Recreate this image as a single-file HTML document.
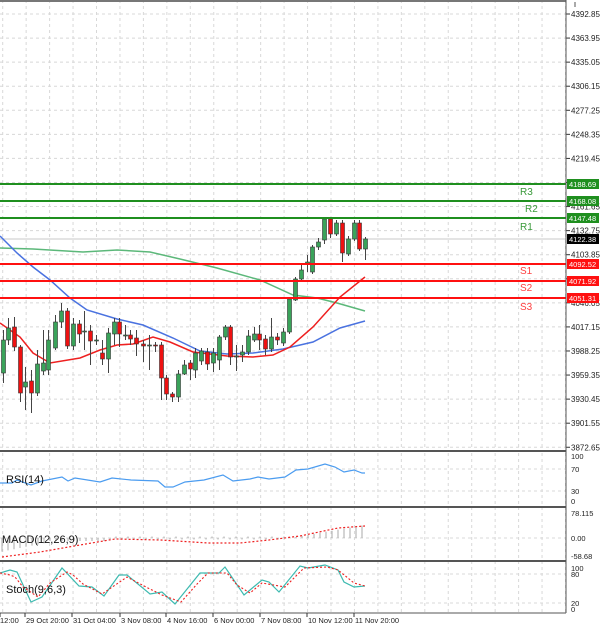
<!DOCTYPE html>
<html><head><meta charset="utf-8"><style>
html,body{margin:0;padding:0;background:#fff;}
svg{display:block;font-family:"Liberation Sans",sans-serif;}
</style></head><body>
<svg id="c" width="600" height="629" viewBox="0 0 600 629" xmlns="http://www.w3.org/2000/svg"></svg>
<script>
const s=document.getElementById('c');let h='';
const W=566;
const gs='stroke="#d8d8d8" stroke-width="1" stroke-dasharray="3,3"';
for(let x=2.7;x<W;x+=23.45){h+=`<line x1="${x}" y1="0" x2="${x}" y2="451" ${gs}/><line x1="${x}" y1="453" x2="${x}" y2="613" ${gs}/>`;}
h+=`<line x1="0" y1="1" x2="${W}" y2="1" stroke="#777" stroke-width="2"/>`;
const labs=["4392.85","4363.95","4335.05","4306.15","4277.25","4248.35","4219.45","4190.55","4161.65","4132.75","4103.85","4074.95","4046.05","4017.15","3988.25","3959.35","3930.45","3901.55","3872.65"];
labs.forEach((l,i)=>{const y=14+i*24.07;h+=`<line x1="0" y1="${y}" x2="${W}" y2="${y}" ${gs}/><line x1="${W}" y1="${y}" x2="${W+4}" y2="${y}" stroke="#333"/>`;if(i!=7&&i!=11)h+=`<text x="${W+5}" y="${y+3}" font-size="8" fill="#222">${l}</text>`;});
[[469],[491],[538],[574],[603]].forEach(a=>{h+=`<line x1="0" y1="${a[0]}" x2="${W}" y2="${a[0]}" ${gs}/>`;});
h+=`<line x1="0" y1="239" x2="${W}" y2="239" stroke="#e4e4e4" stroke-width="2"/>`;
const pl=(pts,c,w,d)=>`<polyline fill="none" stroke="${c}" stroke-width="${w}" ${d||''} points="${pts.map(p=>p.join(',')).join(' ')}"/>`;
h+=pl([[0,248],[33,249],[83,252],[117,250],[150,252],[180,259],[217,268],[260,280],[293,295],[317,298],[337,303],[365,311]],'#5cb87a',1.5);
h+=pl([[0,236],[17,253],[33,267],[50,280],[70,298],[87,310],[117,319],[143,325],[173,338],[200,351],[227,354],[253,353],[283,349],[313,342],[340,328],[365,321]],'#4a72e0',1.5);
h+=pl([[0,323],[20,337],[33,353],[50,363],[80,358],[100,350],[117,345],[133,344],[153,337],[170,342],[193,352],[227,356],[253,357],[273,355],[290,347],[313,327],[340,297],[365,277]],'#ee2020',1.5);
const C=[[3,340,373,330,383,'g'],[8,328,340,318,345,'g'],[14,327,347,317,351,'r'],[20,347,393,345,402,'r'],[25,382,387,367,410,'g'],[31,381,393,370,413,'r'],[37,364,393,350,396,'g'],[43,363,371,330,375,'g'],[48,340,370,330,375,'g'],[55,322,348,315,350,'g'],[61,311,322,303,328,'g'],[67,311,346,308,349,'r'],[73,324,346,318,350,'g'],[79,324,334,320,343,'r'],[84,331,332,311,350,'g'],[90,331,341,325,365,'r'],[96,340,341,335,345,'g'],[102,353,359,340,365,'r'],[108,333,359,328,373,'g'],[114,322,334,318,345,'g'],[119,322,334,318,347,'r'],[125,335,336,325,340,'g'],[130,335,339,330,345,'r'],[136,338,344,330,356,'r'],[143,344,346,340,362,'r'],[149,345,346,335,370,'g'],[155,345,346,342,352,'r'],[161,345,378,342,400,'r'],[166,378,394,375,400,'r'],[172,394,397,392,402,'r'],[178,374,397,370,402,'g'],[184,365,374,360,375,'g'],[190,363,369,360,380,'r'],[195,353,370,348,378,'g'],[201,351,361,348,365,'g'],[207,352,364,348,370,'r'],[213,353,363,348,372,'g'],[219,337,360,335,370,'g'],[225,327,337,325,340,'g'],[230,327,357,325,365,'r'],[236,356,357,345,371,'g'],[242,352,355,345,362,'g'],[248,336,352,330,355,'g'],[254,334,340,327,342,'g'],[259,334,340,325,350,'r'],[265,339,349,335,355,'r'],[271,337,349,318,352,'g'],[277,337,340,333,345,'r'],[283,332,343,328,346,'g'],[289,299,332,297,334,'g'],[295,279,300,277,301,'g'],[301,270,279,265,281,'g'],[307,262,264,255,272,'g'],[312,247,272,245,274,'g'],[318,242,247,238,250,'g'],[324,219,240,218,244,'g'],[330,219,234,218,238,'r'],[336,223,234,220,236,'g'],[342,223,253,220,262,'r'],[348,239,254,236,256,'g'],[354,223,239,220,241,'g'],[359,223,249,220,251,'r'],[365,239,249,237,260,'g']];
C.forEach(c=>{const f=c[5]=='g'?'#3aa35a':'#ee1111';h+=`<line x1="${c[0]+.5}" y1="${c[3]}" x2="${c[0]+.5}" y2="${c[4]}" stroke="#444"/><rect x="${c[0]-1.5}" y="${c[1]}" width="4" height="${Math.max(1,c[2]-c[1])}" fill="${f}" stroke="#333" stroke-width=".6"/>`;});
[[184,'#1f8f1f','4188.69','R3',520,195],[201,'#1f8f1f','4168.08','R2',525,212],[218,'#1f8f1f','4147.48','R1',520,230],[264,'#ff1010','4092.52','S1',520,274],[281,'#ff1010','4071.92','S2',520,291],[298,'#ff1010','4051.31','S3',520,310]].forEach(l=>{
h+=`<line x1="0" y1="${l[0]}" x2="${W}" y2="${l[0]}" stroke="${l[1]}" stroke-width="2"/><rect x="${W+1}" y="${l[0]-5}" width="32" height="10" fill="${l[1]}"/><text x="${W+3}" y="${l[0]+3}" font-size="7.5" fill="#fff">${l[2]}</text><text x="${l[4]}" y="${l[5]}" font-size="10" fill="${l[1]=='#ff1010'?'#ff4040':'#3a9a3a'}">${l[3]}</text>`;});
h+=`<rect x="${W+1}" y="234" width="32" height="10" fill="#000"/><text x="${W+3}" y="242" font-size="7.5" fill="#fff">4122.38</text>`;
[451,507,561].forEach(y=>{h+=`<line x1="0" y1="${y}" x2="${W}" y2="${y}" stroke="#555" stroke-width="2"/>`;});
h+=`<line x1="0" y1="613" x2="${W}" y2="613" stroke="#555"/>`;
h+=`<line x1="${W}" y1="0" x2="${W}" y2="613" stroke="#555"/>`;
h+=pl([[0,483],[12,483],[17,480],[31,485],[42,481],[62,477],[68,481],[75,478],[100,482],[112,478],[131,480],[158,481],[165,487],[173,487],[185,482],[204,480],[223,475],[233,481],[250,479],[258,477],[269,479],[285,477],[296,470],[308,469],[325,464],[335,467],[344,472],[354,470],[362,473],[365,473]],'#4b9cf0',1.2);
h+=`<text x="6" y="483" font-size="11" fill="#111">RSI(14)</text>`;
[['100',459],['70',472],['30',494],['0',504]].forEach(t=>{h+=`<text x="${W+5}" y="${t[1]}" font-size="7.5" fill="#222">${t[0]}</text>`;});
for(let x=2;x<=365;x+=6){let v;if(x<45)v=-14+x*0.2;else if(x<110)v=-3;else if(x<290)v=(x%12<6?-1.5:1.5);else v=(x-290)/75*13;h+=`<line x1="${x}" y1="538" x2="${x}" y2="${538-v}" stroke="#aaa"/>`;}
h+=pl([[2,557],[40,552],[80,545],[115,539],[160,540],[208,543],[240,543],[269,540],[300,536],[338,528],[365,526]],'#ee2020',1.2,'stroke-dasharray="2,2"');
h+=`<text x="2" y="543" font-size="11" fill="#111">MACD(12,26,9)</text>`;
[['78.115',516],['0.00',541],['-58.68',559]].forEach(t=>{h+=`<text x="${W+5}" y="${t[1]}" font-size="7.5" fill="#222">${t[0]}</text>`;});
h+=pl([[0,573],[10,570],[17,572],[31,602],[42,597],[62,568],[79,586],[92,587],[104,596],[119,575],[127,575],[150,594],[162,592],[175,604],[200,573],[219,573],[225,567],[244,595],[262,580],[269,582],[279,592],[300,566],[308,568],[325,565],[338,570],[344,582],[354,587],[365,586]],'#3dbab0',1.2);
h+=pl([[0,573],[10,575],[15,577],[23,587],[38,597],[50,583],[67,572],[73,575],[83,584],[102,594],[127,577],[146,587],[162,595],[181,602],[198,583],[208,573],[227,573],[237,585],[250,593],[262,583],[285,587],[304,568],[327,567],[338,570],[354,583],[365,586]],'#ee2020',1.1,'stroke-dasharray="2,2"');
h+=`<text x="6" y="593" font-size="11" fill="#111">Stoch(9,6,3)</text>`;
[['100',571],['80',577],['20',606],['0',612]].forEach(t=>{h+=`<text x="${W+5}" y="${t[1]}" font-size="7.5" fill="#222">${t[0]}</text>`;});
[['12:00',0],['29 Oct 20:00',25],['31 Oct 04:00',72],['3 Nov 08:00',120],['4 Nov 16:00',166],['6 Nov 00:00',213],['7 Nov 08:00',260],['10 Nov 12:00',307],['11 Nov 20:00',354]].forEach(t=>{h+=`<line x1="${t[1]}" y1="613" x2="${t[1]}" y2="617" stroke="#333"/><text x="${t[1]+(t[1]?1:0)}" y="623" font-size="7.5" fill="#222">${t[0]}</text>`;});
h+=`<line x1="575" y1="2" x2="575" y2="7" stroke="#aaa" stroke-width="2"/>`;
s.innerHTML=h;
</script>
</body></html>
